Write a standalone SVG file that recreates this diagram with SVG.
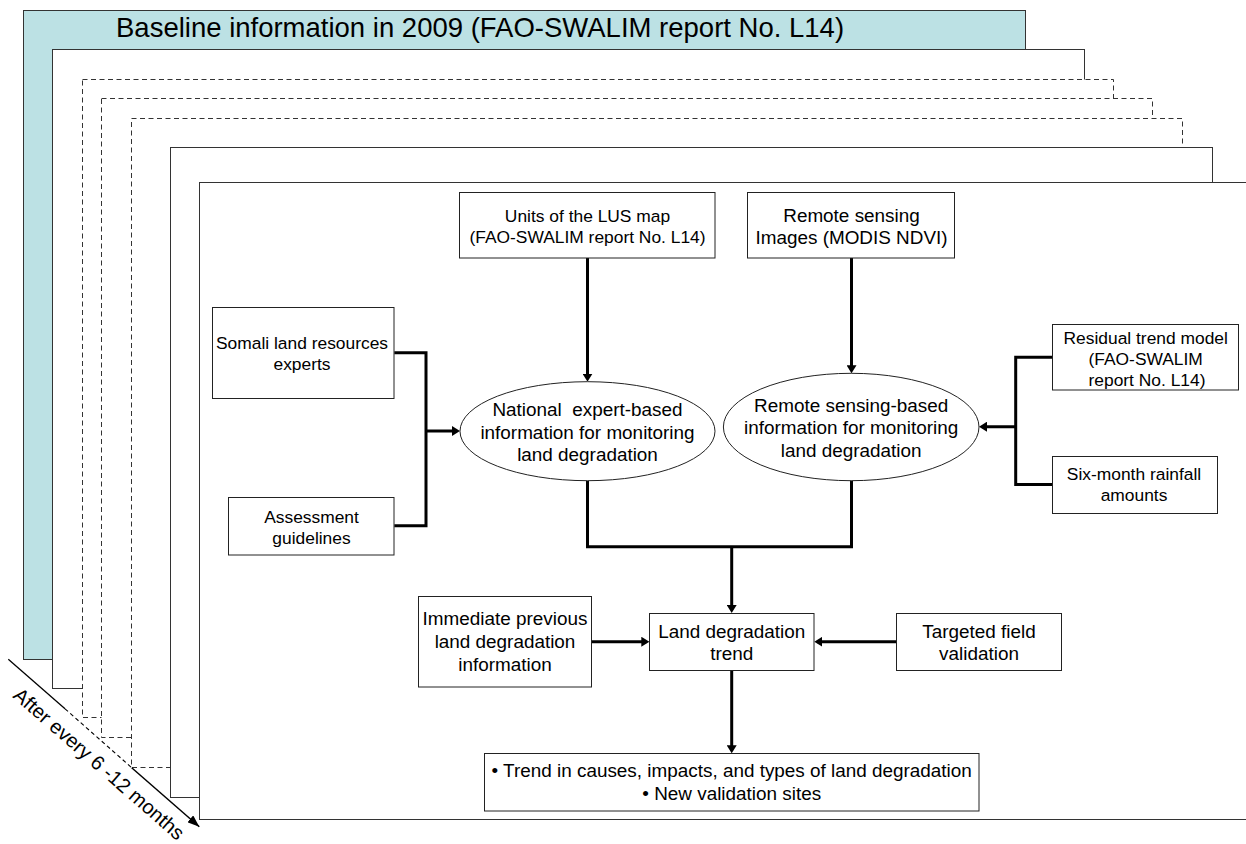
<svg xmlns="http://www.w3.org/2000/svg" width="1246" height="844" viewBox="0 0 1246 844">
  <defs>
    <style>
      text { font-family: "Liberation Sans", Arial, sans-serif; fill: #000; }
      .sm { font-size: 17.4px; text-anchor: middle; }
      .lg { font-size: 18.9px; text-anchor: middle; }
      .page { fill: #fff; stroke: #333; stroke-width: 1; }
      .dash { stroke-dasharray: 5 3.5; }
      .box { fill: #fff; stroke: #222; stroke-width: 1; }
      .conn { fill: none; stroke: #000; stroke-width: 3; }
      .arr { marker-end: url(#ah); }
    </style>
    <marker id="ah" viewBox="0 0 8 10" refX="5" refY="5" markerWidth="8" markerHeight="10" markerUnits="userSpaceOnUse" orient="auto">
      <path d="M0,0 L8,5 L0,10 z" fill="#000"/>
    </marker>
    <marker id="ah2" viewBox="0 0 12 9" refX="12" refY="4.5" markerWidth="12" markerHeight="9" markerUnits="userSpaceOnUse" orient="auto">
      <path d="M0,0 L12,4.5 L0,9 z" fill="#000"/>
    </marker>
  </defs>

  <!-- stacked monitoring sheets, oldest at the back -->
  <g id="sheets">
    <rect x="23.5" y="10.5" width="1002" height="649" fill="#bce1e4" stroke="#333" stroke-width="1"/>
    <text x="116" y="36.5" font-size="27.5">Baseline information in 2009 (FAO-SWALIM report No. L14)</text>
    <rect class="page" x="52.5" y="49.5" width="1032" height="639"/>
    <rect class="page dash" x="82.5" y="79.5" width="1031" height="638"/>
    <rect class="page dash" x="101.5" y="98.5" width="1051" height="639"/>
    <rect class="page dash" x="131.5" y="118.5" width="1051" height="649"/>
    <rect class="page" x="170.5" y="147.5" width="1042" height="650"/>
    <rect class="page" x="199.5" y="182.5" width="1060" height="637"/>
  </g>

  <!-- time axis -->
  <g id="time-axis">
    <line x1="8.3" y1="659.3" x2="65" y2="708.8" stroke="#000" stroke-width="1.3"/>
    <line x1="65" y1="708.8" x2="131.7" y2="767.7" stroke="#000" stroke-width="1.1" stroke-dasharray="4 3"/>
    <line x1="131.7" y1="767.7" x2="199.3" y2="826.7" stroke="#000" stroke-width="1.5" marker-end="url(#ah2)"/>
    <text transform="translate(12,697) rotate(41.1)" font-size="20">After every 6 -12 months</text>
  </g>

  <!-- connectors -->
  <g id="connectors">
    <path class="conn arr" d="M587.5,258 V378.7"/>
    <path class="conn arr" d="M851.5,258 V370.3"/>
    <path class="conn" d="M394.3,352.7 H426 V525.7 H394.3"/>
    <path class="conn arr" d="M426,431 H457"/>
    <path class="conn" d="M1052.6,357.3 H1015.7 V484.5 H1052.6"/>
    <path class="conn arr" d="M1015.7,426.7 H982"/>
    <path class="conn" d="M587.5,480.7 V546.7 H851.5 V480.7"/>
    <path class="conn arr" d="M731.7,546.7 V610"/>
    <path class="conn arr" d="M591.7,641.7 H646.3"/>
    <path class="conn arr" d="M896.3,641.7 H817.3"/>
    <path class="conn arr" d="M731.7,670.3 V750.3"/>
  </g>

  <g id="lus-units">
    <rect class="box" x="459.5" y="192.5" width="255.5" height="65.5"/>
    <text class="sm" x="587.5" y="221.5">Units of the LUS map</text>
    <text class="sm" x="587.5" y="242.5">(FAO-SWALIM report No. L14)</text>
  </g>

  <g id="rs-images">
    <rect class="box" x="747.5" y="192.5" width="207" height="65.5"/>
    <text class="lg" x="851.5" y="221.5">Remote sensing</text>
    <text class="lg" x="851.5" y="243.5">Images (MODIS NDVI)</text>
  </g>

  <g id="somali-experts">
    <rect class="box" x="212.5" y="307.5" width="181.5" height="91"/>
    <text class="sm" x="302" y="349">Somali land resources</text>
    <text class="sm" x="302" y="370">experts</text>
  </g>

  <g id="assessment-guidelines">
    <rect class="box" x="228.5" y="497.5" width="165.5" height="57.5"/>
    <text class="sm" x="311.5" y="522.5">Assessment</text>
    <text class="sm" x="311.5" y="543.5">guidelines</text>
  </g>

  <g id="expert-info">
    <ellipse cx="587.5" cy="431.2" rx="127.5" ry="49.5" fill="#fff" stroke="#222" stroke-width="1"/>
    <text class="lg" x="587.5" y="416" xml:space="preserve">National  expert-based</text>
    <text class="lg" x="587.5" y="438.5">information for monitoring</text>
    <text class="lg" x="587.5" y="461">land degradation</text>
  </g>

  <g id="rs-info">
    <ellipse cx="851.2" cy="427" rx="127.8" ry="53.7" fill="#fff" stroke="#222" stroke-width="1"/>
    <text class="lg" x="851.2" y="411.5">Remote sensing-based</text>
    <text class="lg" x="851.2" y="434">information for monitoring</text>
    <text class="lg" x="851.2" y="456.5">land degradation</text>
  </g>

  <g id="residual-trend">
    <rect class="box" x="1052.5" y="324.5" width="186" height="65.5"/>
    <text class="sm" x="1145.7" y="343.5">Residual trend model</text>
    <text class="sm" x="1145.7" y="364.5">(FAO-SWALIM</text>
    <text class="sm" x="1147" y="385.5">report No. L14)</text>
  </g>

  <g id="rainfall">
    <rect class="box" x="1052.5" y="456.5" width="165" height="57"/>
    <text class="sm" x="1134" y="480">Six-month rainfall</text>
    <text class="sm" x="1134" y="501">amounts</text>
  </g>

  <g id="previous-info">
    <rect class="box" x="418.5" y="596.5" width="173" height="90.5"/>
    <text class="lg" x="505" y="625">Immediate previous</text>
    <text class="lg" x="505" y="648">land degradation</text>
    <text class="lg" x="505" y="670.7">information</text>
  </g>

  <g id="trend">
    <rect class="box" x="649.5" y="613.5" width="164.5" height="57"/>
    <text class="lg" x="731.7" y="638.3">Land degradation</text>
    <text class="lg" x="731.7" y="660">trend</text>
  </g>

  <g id="field-validation">
    <rect class="box" x="896.5" y="613.5" width="165" height="57"/>
    <text class="lg" x="979" y="638.3">Targeted field</text>
    <text class="lg" x="979" y="660">validation</text>
  </g>

  <g id="outputs">
    <rect class="box" x="484.5" y="753.5" width="494.5" height="57.5"/>
    <text class="lg" x="731.7" y="776.7">• Trend in causes, impacts, and types of land degradation</text>
    <text class="lg" x="731.7" y="800">• New validation sites</text>
  </g>
</svg>
